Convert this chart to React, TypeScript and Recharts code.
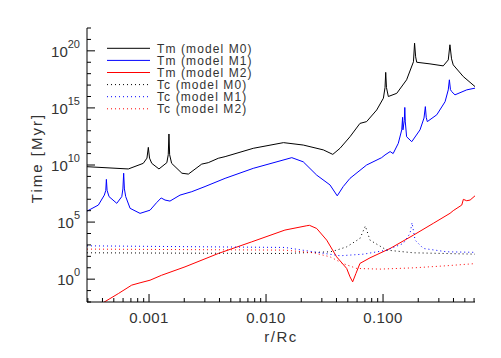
import React from "react";
import { LineChart, Line, XAxis, YAxis, Legend } from "recharts";

// r/Rc vs time [Myr]
const tmM0: [number, number][] = [
  [0.000295, 7.1e9], [0.000665, 4.5e9], [0.000893, 1.4e10], [0.00096, 4e10],
  [0.000986, 3.5e11], [0.00101, 4e10], [0.001055, 1.4e10], [0.001216, 4.5e9],
  [0.00142, 1.6e10], [0.00146, 8e10], [0.00148, 5.2e12], [0.0015, 8e10],
  [0.00156, 1.4e10], [0.00191, 1.9e9], [0.00217, 1.6e9], [0.00282, 1.2e10],
  [0.00321, 1.6e10], [0.00391, 3.9e10], [0.00447, 5.4e10], [0.00778, 2.9e11],
  [0.0141, 9.1e11], [0.0208, 5.6e11], [0.0309, 2.1e11], [0.0372, 8.5e10],
  [0.0429, 2.9e11], [0.0522, 3.0e12], [0.0635, 4.4e13], [0.0724, 6.3e13],
  [0.0883, 6.6e14], [0.1007, 7.1e15], [0.104, 6e16], [0.1054, 1.3e18],
  [0.107, 6e16], [0.111, 1.0e16], [0.131, 1.9e16], [0.159, 2.9e17],
  [0.182, 1.1e19], [0.186, 4.7e20], [0.19, 3e19], [0.194, 1.0e19],
  [0.252, 7.2e18], [0.327, 4.8e18], [0.361, 1.6e19], [0.373, 3.4e20],
  [0.385, 2e19], [0.398, 5.9e18], [0.485, 5.6e17], [0.611, 7.4e16],
];

const tmM1: [number, number][] = [
  [0.000295, 9.1e5], [0.000369, 3.1e6], [0.000415, 2.3e7], [0.000427, 6e7],
  [0.000432, 5.5e8], [0.000438, 6e7], [0.000455, 1.7e7], [0.00053, 4.4e6],
  [0.000585, 1.7e7], [0.000598, 8e7], [0.000607, 1.9e9], [0.000616, 8e7],
  [0.000632, 1.7e7], [0.000689, 1.6e6], [0.000838, 5.8e5], [0.00102, 1.1e6],
  [0.00116, 5.0e6], [0.00127, 1.3e7], [0.00137, 8.5e6], [0.00151, 6.9e6],
  [0.00184, 2.3e7], [0.00232, 4.6e7], [0.00301, 1.3e8], [0.00447, 6.8e8],
  [0.00778, 5.1e9], [0.0166, 4.4e10], [0.0208, 1.9e10], [0.0271, 1.3e9],
  [0.0352, 1.8e8], [0.0406, 2.0e7], [0.0457, 1.3e8], [0.0522, 6.8e8],
  [0.0724, 1.0e10], [0.0973, 4.4e10], [0.104, 7.6e10], [0.115, 1.5e11],
  [0.122, 1.0e11], [0.135, 7.9e11], [0.1445, 1.2e13], [0.147, 1.5e14],
  [0.148, 1.2e13], [0.152, 8e13], [0.1535, 1.1e15], [0.155, 6e13],
  [0.159, 3.0e12], [0.176, 1.1e12], [0.207, 1.2e13], [0.224, 1.3e14],
  [0.23, 1.3e15], [0.234, 1.5e14], [0.239, 6.3e13], [0.288, 2.5e14],
  [0.339, 3.5e15], [0.361, 3.8e16], [0.369, 2.9e17], [0.377, 4e16],
  [0.386, 2.7e16], [0.412, 1.4e16], [0.519, 3.8e16], [0.611, 5.4e16],
];

const tmM2: [number, number][] = [
  [0.0004, 8e-3], [0.000547, 0.055], [0.000711, 0.3], [0.000838, 0.48],
  [0.00102, 0.81], [0.00128, 2.2], [0.00203, 12], [0.00391, 178],
  [0.00755, 1860], [0.0145, 2.0e4], [0.0223, 4.8e4], [0.0235, 5.2e4],
  [0.0271, 2.75e4], [0.033, 2630], [0.0401, 91], [0.0489, 8.7],
  [0.0522, 1.6], [0.055, 0.58], [0.0587, 3.2], [0.0635, 24],
  [0.0774, 74], [0.115, 490], [0.182, 7200], [0.269, 7.8e4],
  [0.374, 5.9e5], [0.398, 1.0e6], [0.471, 3.1e6], [0.486, 9.8e6],
  [0.519, 7.4e6], [0.555, 8.5e6], [0.611, 2.0e7],
];

const tcM0: [number, number][] = [
  [0.000295, 204], [0.0145, 178], [0.0355, 250], [0.0401, 350],
  [0.0489, 680], [0.0635, 3700], [0.0706, 4.5e4], [0.0774, 2600],
  [0.1076, 350], [0.182, 204], [0.611, 155],
];

const tcM1: [number, number][] = [
  [0.000295, 830], [0.0145, 600], [0.0254, 250], [0.0429, 112],
  [0.0679, 155], [0.1076, 350], [0.149, 1350], [0.17, 1.0e4],
  [0.177, 8.7e4], [0.188, 2600], [0.221, 490], [0.35, 250], [0.611, 224],
];

const tcM2: [number, number][] = [
  [0.000295, 430], [0.0145, 350], [0.0254, 204], [0.0352, 91],
  [0.0457, 23], [0.0596, 8.7], [0.0942, 7.6], [0.182, 9.8],
  [0.35, 15], [0.611, 23],
];

const seriesNames = [
  "Tm (model M0)", "Tm (model M1)", "Tm (model M2)",
  "Tc (model M0)", "Tc (model M1)", "Tc (model M2)",
];

const toPoints = (rows: [number, number][]) => rows.map(([r, t]) => ({ r, t }));

const series = [
  { name: seriesNames[0], data: toPoints(tmM0), color: "#000000", dotted: false },
  { name: seriesNames[1], data: toPoints(tmM1), color: "#0000ff", dotted: false },
  { name: seriesNames[2], data: toPoints(tmM2), color: "#ff0000", dotted: false },
  { name: seriesNames[3], data: toPoints(tcM0), color: "#000000", dotted: true },
  { name: seriesNames[4], data: toPoints(tcM1), color: "#0000ff", dotted: true },
  { name: seriesNames[5], data: toPoints(tcM2), color: "#ff0000", dotted: true },
];

const X_DOMAIN: [number, number] = [0.000295, 0.611];
const Y_DOMAIN: [number, number] = [1e-2, 1e22];
const DOTS = "1 3";
const FONT = "'Liberation Sans', Arial, Helvetica, sans-serif";
const TEXT = "#333333";

const xTicks: number[] = [];
for (let d = -4; d <= -1; d++) {
  for (let m = 1; m <= 9; m++) {
    const v = m * Math.pow(10, d);
    if (v >= X_DOMAIN[0] && v <= X_DOMAIN[1]) xTicks.push(v);
  }
}
const yTicks: number[] = [];
for (let e = -2; e <= 22; e++) yTicks.push(Math.pow(10, e));

const isMajorX = (v: number) => {
  const l = Math.log10(v);
  return Math.abs(l - Math.round(l)) < 1e-6;
};

function BottomTick({ x, y, payload }: any) {
  const major = isMajorX(payload.value);
  return (
    <g>
      <line x1={x} y1={y} x2={x} y2={y - (major ? 8 : 4)} stroke="#000" />
      {major && (
        <text x={x} y={y + 21} textAnchor="middle" fontSize={15} fill={TEXT} letterSpacing={0.4}>
          {payload.value.toFixed(3)}
        </text>
      )}
    </g>
  );
}

function TopTick({ x, y, payload }: any) {
  const major = isMajorX(payload.value);
  return <line x1={x} y1={y} x2={x} y2={y + (major ? 8 : 4)} stroke="#000" />;
}

function LeftTick({ x, y, payload }: any) {
  const e = Math.round(Math.log10(payload.value));
  const major = e % 5 === 0;
  return (
    <g>
      <line x1={x} y1={y} x2={x + (major ? 8 : 4)} y2={y} stroke="#000" />
      {major && (
        <text x={x - 7} y={y + 6} textAnchor="end" fontSize={15} fill={TEXT}>
          10
          <tspan dy={-9} fontSize={11}>{e}</tspan>
        </text>
      )}
    </g>
  );
}

function RightTick({ x, y, payload }: any) {
  const e = Math.round(Math.log10(payload.value));
  const major = e % 5 === 0;
  return <line x1={x} y1={y} x2={x - (major ? 8 : 4)} y2={y} stroke="#000" />;
}

const renderYTitle = (props: any) => {
  const vb = props.viewBox;
  const cx = vb.x + 42;
  const cy = vb.y + vb.height / 2 - 7;
  return (
    <text
      x={cx}
      y={cy}
      textAnchor="middle"
      fontSize={15}
      fill={TEXT}
      letterSpacing={2}
      transform={`rotate(-90, ${cx}, ${cy})`}
    >
      Time [Myr]
    </text>
  );
};

const renderXTitle = (props: any) => {
  const vb = props.viewBox;
  return (
    <text x={vb.x + vb.width / 2} y={vb.y + 40} textAnchor="middle" fontSize={15} fill={TEXT} letterSpacing={1.5}>
      r/Rc
    </text>
  );
};

const renderLegend = () => (
  <svg width={170} height={80} style={{ fontFamily: FONT }}>
    {series.map((s, i) => {
      const y = 10.3 + i * 12.1;
      return (
        <g key={s.name}>
          <line x1={7} y1={y} x2={50} y2={y} stroke={s.color} strokeDasharray={s.dotted ? DOTS : undefined} />
          <text x={57} y={y + 4.5} fontSize={12} fill={TEXT} letterSpacing={1.1}>
            {s.name}
          </text>
        </g>
      );
    })}
  </svg>
);

export default function App() {
  return (
    <div style={{ position: "absolute", left: 0, top: 0, width: 501, height: 358, background: "#fff" }}>
      <LineChart
        width={501}
        height={358}
        margin={{ top: 28, right: 26, bottom: 0, left: 0 }}
        style={{ fontFamily: FONT }}
      >
        <XAxis
          xAxisId="bottom"
          dataKey="r"
          type="number"
          scale="log"
          domain={X_DOMAIN}
          allowDataOverflow
          ticks={xTicks}
          interval={0}
          height={56}
          tickSize={0}
          tickMargin={0}
          tickLine={false}
          stroke="#000"
          tick={<BottomTick />}
          label={renderXTitle}
        />
        <XAxis
          xAxisId="top"
          orientation="top"
          dataKey="r"
          type="number"
          scale="log"
          domain={X_DOMAIN}
          allowDataOverflow
          ticks={xTicks}
          interval={0}
          height={0}
          tickSize={0}
          tickMargin={0}
          tickLine={false}
          stroke="#000"
          tick={<TopTick />}
        />
        <YAxis
          yAxisId="left"
          type="number"
          scale="log"
          domain={Y_DOMAIN}
          allowDataOverflow
          ticks={yTicks}
          interval={0}
          width={87}
          tickSize={0}
          tickMargin={0}
          tickLine={false}
          stroke="#000"
          tick={<LeftTick />}
          label={renderYTitle}
        />
        <YAxis
          yAxisId="right"
          orientation="right"
          type="number"
          scale="log"
          domain={Y_DOMAIN}
          allowDataOverflow
          ticks={yTicks}
          interval={0}
          width={0}
          tickSize={0}
          tickMargin={0}
          tickLine={false}
          stroke="#000"
          tick={<RightTick />}
        />
        <Legend
          layout="vertical"
          align="center"
          verticalAlign="middle"
          wrapperStyle={{ left: 100, top: 38, width: 170, height: 80 }}
          content={renderLegend}
        />
        {series.map((s) => (
          <Line
            key={s.name}
            xAxisId="bottom"
            yAxisId="left"
            data={s.data}
            dataKey="t"
            name={s.name}
            type="linear"
            stroke={s.color}
            strokeWidth={1}
            strokeDasharray={s.dotted ? DOTS : undefined}
            dot={false}
            activeDot={false}
            isAnimationActive={false}
          />
        ))}
      </LineChart>
    </div>
  );
}
